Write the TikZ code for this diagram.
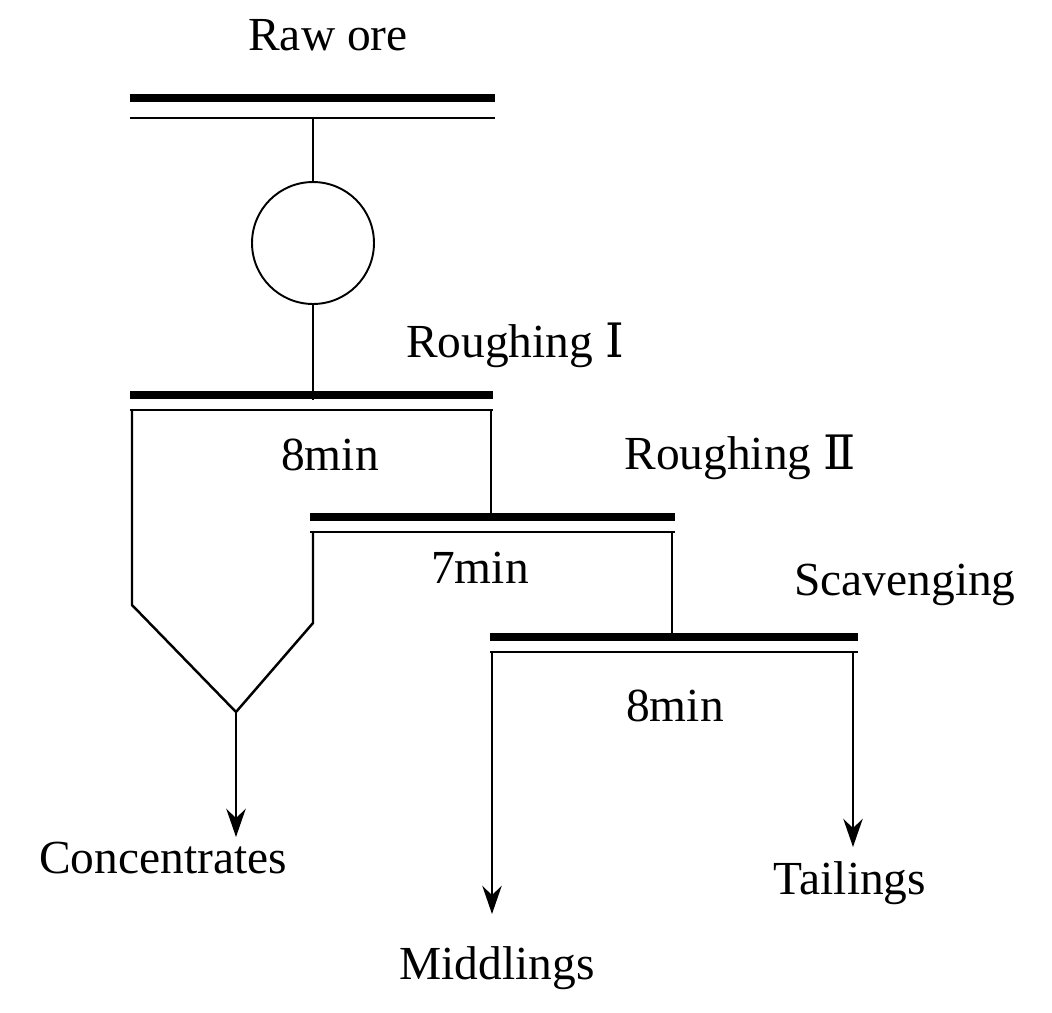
\documentclass[tikz,border=0pt]{standalone}
\usepackage{fontspec}
\setmainfont{Liberation Serif}
\newfontfamily\numf{DejaVu Serif}
\usetikzlibrary{arrows.meta}
\tikzset{
  lbl/.style={font=\fontsize{27}{30}\selectfont, inner sep=0pt},
  bar/.style={line width=4pt},
  thin/.style={line width=1.1pt},
  pipe/.style={line width=1.4pt},
  flow/.style={pipe, -{Stealth[length=16pt,width=11pt]}}
}
\begin{document}
\begin{tikzpicture}[x=0.02cm,y=-0.02cm]
\useasboundingbox (0,0) rectangle (1052,1012);
% labels
\node[lbl] (raw) at (328,35) {Raw ore};
\node[lbl] (r1) at (515,345) {Roughing {\numf Ⅰ}};
\node[lbl] (r2) at (740,457) {Roughing {\numf Ⅱ}};
\node[lbl] (sc) at (905,585) {Scavenging};
\node[lbl] (t1) at (330,455) {8min};
\node[lbl] (t2) at (480,568) {7min};
\node[lbl] (t3) at (675,706) {8min};
\node[lbl] (conc) at (163,858) {Concentrates};
\node[lbl] (mid) at (497,968) {Middlings};
\node[lbl] (tail) at (850,883) {Tailings};
% feed
\draw[bar] (130,98) -- (495,98);
\draw[thin] (130,118) -- (495,118);
\node[circle, draw, thin, minimum size=2.44cm, inner sep=0pt] (mix) at (313,243) {};
\coordinate (f0) at (313,118);
\coordinate (f1) at (313,400);
\draw[pipe] (f0) -- (mix.north);
\draw[pipe] (mix.south) -- (f1);
% roughing I
\draw[bar] (130,395) -- (493,395);
\draw[thin] (130,410) -- (493,410);
\coordinate (cone) at (236,712);
\draw[pipe] (132,410) -- (132,605) -- (cone) -- (313,623) -- (313,532);
\draw[pipe] (491,410) -- (491,517);
% roughing II
\draw[bar] (310,517) -- (675,517);
\draw[thin] (310,532) -- (675,532);
\draw[pipe] (672,532) -- (672,637);
% scavenging
\draw[bar] (490,637) -- (858,637);
\draw[thin] (490,652) -- (858,652);
\coordinate (m0) at (492,652);
\coordinate (m1) at (492,914);
\coordinate (s0) at (853,652);
\coordinate (s1) at (853,847);
\coordinate (c1) at (236,837);
\draw[flow] (cone) -- (c1);
\draw[flow] (m0) -- (m1);
\draw[flow] (s0) -- (s1);
\end{tikzpicture}
\end{document}
